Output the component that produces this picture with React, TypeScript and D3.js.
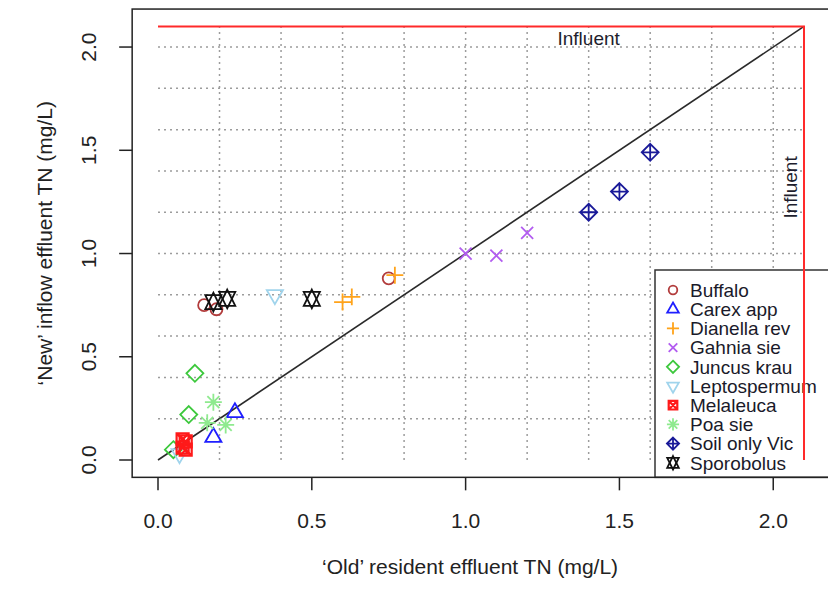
import React from "react";
import * as d3 from "d3";

// legend order, colours and R plotting symbols
const species = ["Buffalo", "Carex app", "Dianella rev", "Gahnia sie", "Juncus krau", "Leptospermum", "Melaleuca", "Poa sie", "Soil only Vic", "Sporobolus"];
const colours = ["#b23c3c", "#1f1fff", "#ffa31a", "#b25cf0", "#3cc83c", "#a0d4ec", "#ff1a1a", "#8fea8f", "#1a1a99", "#111111"];
const pchs = [1, 2, 3, 4, 5, 6, 7, 8, 9, 11];

// [old resident TN, new inflow TN]
const buffalo = [[0.15, 0.75], [0.19, 0.73], [0.75, 0.88]];
const carex = [[0.25, 0.23], [0.18, 0.11]];
const dianella = [[0.77, 0.895], [0.6, 0.765], [0.63, 0.79]];
const gahnia = [[1.0, 1.0], [1.1, 0.99], [1.2, 1.1]];
const juncus = [[0.12, 0.42], [0.1, 0.22], [0.05, 0.05]];
const leptospermum = [[0.38, 0.8], [0.07, 0.03]];
const melaleuca = [[0.08, 0.1], [0.09, 0.09], [0.08, 0.06], [0.09, 0.05]];
const poa = [[0.18, 0.28], [0.16, 0.18], [0.22, 0.17]];
const soilOnly = [[1.4, 1.2], [1.5, 1.3], [1.6, 1.49]];
const sporobolus = [[0.18, 0.765], [0.225, 0.78], [0.5, 0.78]];

const seriesPoints = [buffalo, carex, dianella, gahnia, juncus, leptospermum, melaleuca, poa, soilOnly, sporobolus];

const axisTicks = [0, 0.5, 1.0, 1.5, 2.0];
const gridTicks = [0.2, 0.4, 0.6, 0.8, 1.0, 1.2, 1.4, 1.6, 1.8, 2.0];
const influent = 2.1;

const W = 828;
const H = 591;
const font = "'Liberation Sans', Arial, sans-serif";

// R style point symbols
function Symbol({ pch, cx, cy, R, col, lw }: any) {
  const s = { fill: "none", stroke: col, strokeWidth: lw };
  const TRC0 = Math.sqrt((4 * Math.PI) / (3 * Math.sqrt(3)));
  const TRC1 = (TRC0 * Math.sqrt(3)) / 2;
  const TRC2 = TRC0 / 2;
  const tri = (up: boolean, r: number, xc: number, yc: number) => {
    const d = up ? 1 : -1;
    return `M${cx},${cy - d * r}L${cx + xc},${cy + d * yc}L${cx - xc},${cy + d * yc}Z`;
  };
  const r2 = Math.SQRT2 * R;
  switch (pch) {
    case 1:
      return <circle cx={cx} cy={cy} r={R} {...s} />;
    case 2:
      return <path d={tri(true, TRC0 * R, TRC1 * R, TRC2 * R)} {...s} />;
    case 6:
      return <path d={tri(false, TRC0 * R, TRC1 * R, TRC2 * R)} {...s} />;
    case 3:
      return <path d={`M${cx - r2},${cy}H${cx + r2}M${cx},${cy - r2}V${cy + r2}`} {...s} />;
    case 4:
      return <path d={`M${cx - R},${cy - R}L${cx + R},${cy + R}M${cx - R},${cy + R}L${cx + R},${cy - R}`} {...s} />;
    case 5:
      return <path d={`M${cx},${cy - r2}L${cx + r2},${cy}L${cx},${cy + r2}L${cx - r2},${cy}Z`} {...s} />;
    case 7:
      return <path d={`M${cx - R},${cy - R}H${cx + R}V${cy + R}H${cx - R}ZM${cx - R},${cy - R}L${cx + R},${cy + R}M${cx - R},${cy + R}L${cx + R},${cy - R}`} {...s} strokeWidth={lw + 0.4} />;
    case 8:
      return <path d={`M${cx - R},${cy - R}L${cx + R},${cy + R}M${cx - R},${cy + R}L${cx + R},${cy - R}M${cx - r2},${cy}H${cx + r2}M${cx},${cy - r2}V${cy + r2}`} {...s} />;
    case 9:
      return <path d={`M${cx},${cy - r2}L${cx + r2},${cy}L${cx},${cy + r2}L${cx - r2},${cy}ZM${cx - r2},${cy}H${cx + r2}M${cx},${cy - r2}V${cy + r2}`} {...s} />;
    case 11: {
      const r = TRC0 * R;
      const yc = 0.5 * (TRC2 * R + r);
      const xc = TRC1 * R;
      return <g><path d={tri(true, r, xc, yc)} {...s} /><path d={tri(false, r, xc, yc)} {...s} /></g>;
    }
    default:
      return null;
  }
}

export default function App() {
  const x = d3.scaleLinear().domain([0, 2.1]).range([158, 804]);
  const y = d3.scaleLinear().domain([0, 2.1]).range([460, 26.4]);
  const ext = 0.04 * 2.1;
  const left = x(-ext), right = x(2.1 + ext), top = y(2.1 + ext), bottom = y(-ext);
  const fmt = d3.format(".1f");

  const legTop = 270;
  const legRow = 19.2;

  return (
    <svg width={W} height={H} style={{ position: "absolute", left: 0, top: 0, background: "#fff" }} fontFamily={font}>
      {/* grid */}
      <g stroke="#9c9c9c" strokeWidth={1.5} strokeDasharray="2,4">
        {gridTicks.map((t) => (
          <line key={"v" + t} x1={x(t)} x2={x(t)} y1={y(0)} y2={y(influent)} />
        ))}
        {gridTicks.map((t) => (
          <line key={"h" + t} x1={x(0)} x2={x(influent)} y1={y(t)} y2={y(t)} />
        ))}
      </g>

      {/* 1:1 line */}
      <line x1={x(0)} y1={y(0)} x2={x(influent)} y2={y(influent)} stroke="#2a2a2a" strokeWidth={1.6} />

      {/* points */}
      {seriesPoints.map((pts, i) =>
        pts.map((p, j) => (
          <Symbol key={i + "-" + j} pch={pchs[i]} cx={x(p[0])} cy={y(p[1])} R={6} col={colours[i]} lw={1.8} />
        ))
      )}

      {/* legend */}
      <rect x={655} y={legTop} width={W} height={bottom - legTop} fill="#fff" stroke="#333" strokeWidth={1.5} />
      {species.map((name, i) => (
        <g key={name}>
          <Symbol pch={pchs[i]} cx={673} cy={legTop + 20 + i * legRow} R={4.3} col={colours[i]} lw={1.8} />
          <text x={690} y={legTop + 20 + i * legRow} dy="0.36em" fontSize={19} fill="#1a1a2a">{name}</text>
        </g>
      ))}

      {/* influent lines */}
      <path d={`M${x(0)},${y(influent)}H${x(influent)}V${y(0)}`} fill="none" stroke="#ff2a2a" strokeWidth={2} />
      <text x={x(1.4)} y={y(2.1) + 12} dy="0.36em" textAnchor="middle" fontSize={19} fill="#1e1e2e">Influent</text>
      <text transform={`translate(${x(2.1) - 14},${y(1.32)}) rotate(-90)`} dy="0.36em" textAnchor="middle" fontSize={19} fill="#1e1e2e">Influent</text>

      {/* frame */}
      <rect x={left} y={top} width={right - left} height={bottom - top} fill="none" stroke="#222" strokeWidth={1.5} />

      {/* x axis */}
      <g>
        {axisTicks.map((t) => (
          <g key={"xt" + t}>
            <line x1={x(t)} x2={x(t)} y1={bottom} y2={bottom + 13} stroke="#222" strokeWidth={1.5} />
            <text x={x(t)} y={520} dy="0.36em" textAnchor="middle" fontSize={21} fill="#222">{fmt(t)}</text>
          </g>
        ))}
        <text x={(left + 808) / 2} y={566} dy="0.36em" textAnchor="middle" fontSize={21} fill="#222">‘Old’ resident effluent TN (mg/L)</text>
      </g>

      {/* y axis */}
      <g>
        {axisTicks.map((t) => (
          <g key={"yt" + t}>
            <line x1={left - 13} x2={left} y1={y(t)} y2={y(t)} stroke="#222" strokeWidth={1.5} />
            <text transform={`translate(${left - 44},${y(t)}) rotate(-90)`} dy="0.36em" textAnchor="middle" fontSize={21} fill="#222">{fmt(t)}</text>
          </g>
        ))}
        <text transform={`translate(44,${(top + bottom) / 2}) rotate(-90)`} dy="0.36em" textAnchor="middle" fontSize={21} fill="#222">‘New’ inflow effluent TN (mg/L)</text>
      </g>
    </svg>
  );
}
